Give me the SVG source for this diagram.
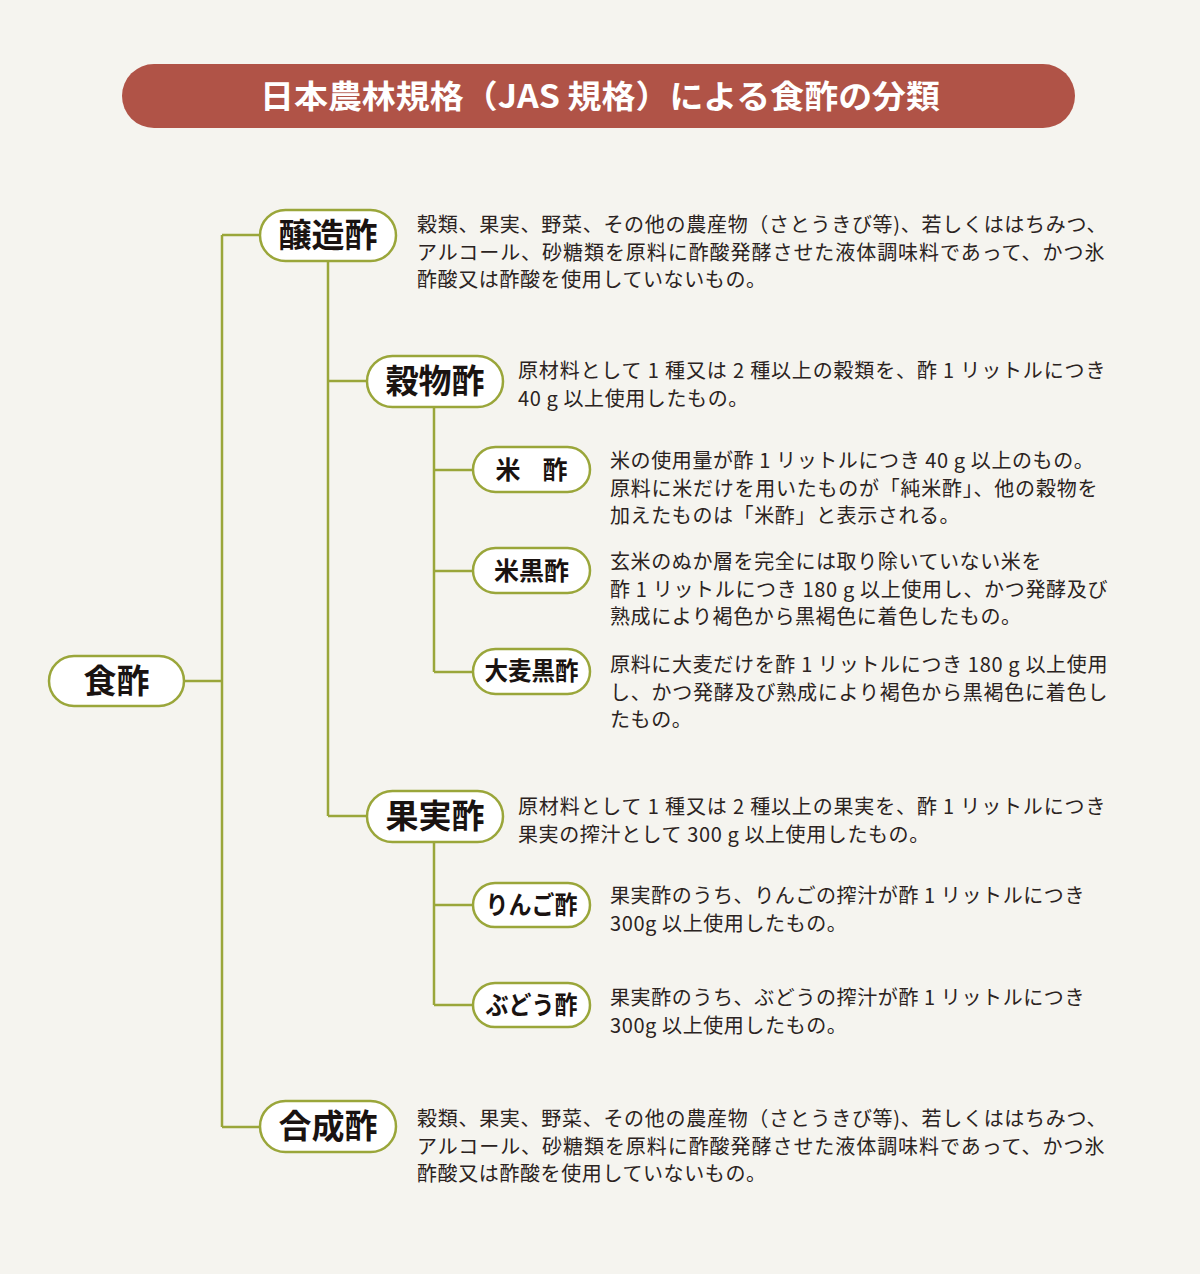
<svg xmlns="http://www.w3.org/2000/svg" width="1200" height="1274" viewBox="0 0 1200 1274">
<style>
.bg{fill:#f5f4ef}
.pill{fill:#ffffff;stroke:#9aa63a;stroke-width:2.5}
.ln{stroke:#9aa63a;stroke-width:2.5;fill:none}
.lb{font-family:"Noto Sans CJK JP","Noto Sans",sans-serif;font-weight:700;fill:#1a1311;text-anchor:middle}
.big{font-size:33px}
.sm{font-size:25px}
.d{font-family:"Noto Sans CJK JP","Noto Sans",sans-serif;font-size:20px;fill:#2b2321;letter-spacing:0.6px}
.title{font-family:"Noto Sans CJK JP","Noto Sans",sans-serif;font-weight:700;font-size:32px;fill:#ffffff;text-anchor:middle}
</style>
<rect class="bg" x="0" y="0" width="1200" height="1274"/>
<g id="title">
<rect x="122" y="64" width="953" height="64" rx="32" fill="#b05347"/>
<text class="title" x="600" y="108" textLength="680" lengthAdjust="spacingAndGlyphs">日本農林規格（JAS 規格）による食酢の分類</text>
</g>
<g id="connectors">
<path class="ln" d="M184 681H222M222 235V1127M222 235H260M222 1127H260"/>
<path class="ln" d="M328 261V816M328 381H367M328 816H367"/>
<path class="ln" d="M434 407V672M434 470H473M434 571H473M434 672H473"/>
<path class="ln" d="M434 842V1005M434 905H473M434 1005H473"/>
</g>
<g id="n-shokusu">
<rect class="pill" x="49" y="656" width="135" height="50" rx="25"/>
<text class="lb big" x="116.5" y="693">食酢</text>
</g>
<g id="n-jozosu">
<rect class="pill" x="260" y="210" width="136" height="51" rx="25.5"/>
<text class="lb big" x="328" y="247">醸造酢</text>
<text class="d" x="417" y="232" textLength="690" lengthAdjust="spacing">穀類、果実、野菜、その他の農産物（さとうきび等)、若しくははちみつ、</text>
<text class="d" x="417" y="259.5" textLength="688" lengthAdjust="spacing">アルコール、砂糖類を原料に酢酸発酵させた液体調味料であって、かつ氷</text>
<text class="d" x="417" y="287">酢酸又は酢酸を使用していないもの。</text>
</g>
<g id="n-kokumotsusu">
<rect class="pill" x="367" y="356" width="136" height="51" rx="25.5"/>
<text class="lb big" x="435" y="393">穀物酢</text>
<text class="d" x="518" y="378" textLength="588" lengthAdjust="spacing">原材料として 1 種又は 2 種以上の穀類を、酢 1 リットルにつき</text>
<text class="d" x="518" y="405.5">40 g 以上使用したもの。</text>
</g>
<g id="n-komesu">
<rect class="pill" x="473" y="447" width="117" height="45" rx="22.5"/>
<text class="lb sm" x="531.5" y="479" textLength="72" lengthAdjust="spacing">米　酢</text>
<text class="d" x="610" y="468">米の使用量が酢 1 リットルにつき 40 g 以上のもの。</text>
<text class="d" x="610" y="495.5" textLength="488" lengthAdjust="spacing">原料に米だけを用いたものが「純米酢」、他の穀物を</text>
<text class="d" x="610" y="523">加えたものは「米酢」と表示される。</text>
</g>
<g id="n-komekurozu">
<rect class="pill" x="473" y="548" width="117" height="45" rx="22.5"/>
<text class="lb sm" x="531.5" y="580">米黒酢</text>
<text class="d" x="610" y="569">玄米のぬか層を完全には取り除いていない米を</text>
<text class="d" x="610" y="596.5" textLength="498" lengthAdjust="spacing">酢 1 リットルにつき 180 g 以上使用し、かつ発酵及び</text>
<text class="d" x="610" y="624">熟成により褐色から黒褐色に着色したもの。</text>
</g>
<g id="n-omugikurozu">
<rect class="pill" x="473" y="649" width="117" height="45" rx="22.5"/>
<text class="lb sm" x="531.5" y="680" font-size="23" textLength="94" lengthAdjust="spacingAndGlyphs">大麦黒酢</text>
<text class="d" x="610" y="672" textLength="498" lengthAdjust="spacing">原料に大麦だけを酢 1 リットルにつき 180 g 以上使用</text>
<text class="d" x="610" y="699.5" textLength="498" lengthAdjust="spacing">し、かつ発酵及び熟成により褐色から黒褐色に着色し</text>
<text class="d" x="610" y="727">たもの。</text>
</g>
<g id="n-kajitsusu">
<rect class="pill" x="367" y="791" width="136" height="51" rx="25.5"/>
<text class="lb big" x="435" y="828">果実酢</text>
<text class="d" x="518" y="814" textLength="588" lengthAdjust="spacing">原材料として 1 種又は 2 種以上の果実を、酢 1 リットルにつき</text>
<text class="d" x="518" y="841.5">果実の搾汁として 300 g 以上使用したもの。</text>
</g>
<g id="n-ringosu">
<rect class="pill" x="473" y="883" width="117" height="44" rx="22"/>
<text class="lb sm" x="531.5" y="914" font-size="23" textLength="92" lengthAdjust="spacingAndGlyphs">りんご酢</text>
<text class="d" x="610" y="903">果実酢のうち、りんごの搾汁が酢 1 リットルにつき</text>
<text class="d" x="610" y="930.5">300g 以上使用したもの。</text>
</g>
<g id="n-budosu">
<rect class="pill" x="473" y="983" width="117" height="44" rx="22"/>
<text class="lb sm" x="531.5" y="1014" font-size="23" textLength="92" lengthAdjust="spacingAndGlyphs">ぶどう酢</text>
<text class="d" x="610" y="1005">果実酢のうち、ぶどうの搾汁が酢 1 リットルにつき</text>
<text class="d" x="610" y="1032.5">300g 以上使用したもの。</text>
</g>
<g id="n-goseisu">
<rect class="pill" x="260" y="1101" width="136" height="51" rx="25.5"/>
<text class="lb big" x="328" y="1138">合成酢</text>
<text class="d" x="417" y="1126" textLength="690" lengthAdjust="spacing">穀類、果実、野菜、その他の農産物（さとうきび等)、若しくははちみつ、</text>
<text class="d" x="417" y="1153.5" textLength="688" lengthAdjust="spacing">アルコール、砂糖類を原料に酢酸発酵させた液体調味料であって、かつ氷</text>
<text class="d" x="417" y="1181">酢酸又は酢酸を使用していないもの。</text>
</g>
</svg>
